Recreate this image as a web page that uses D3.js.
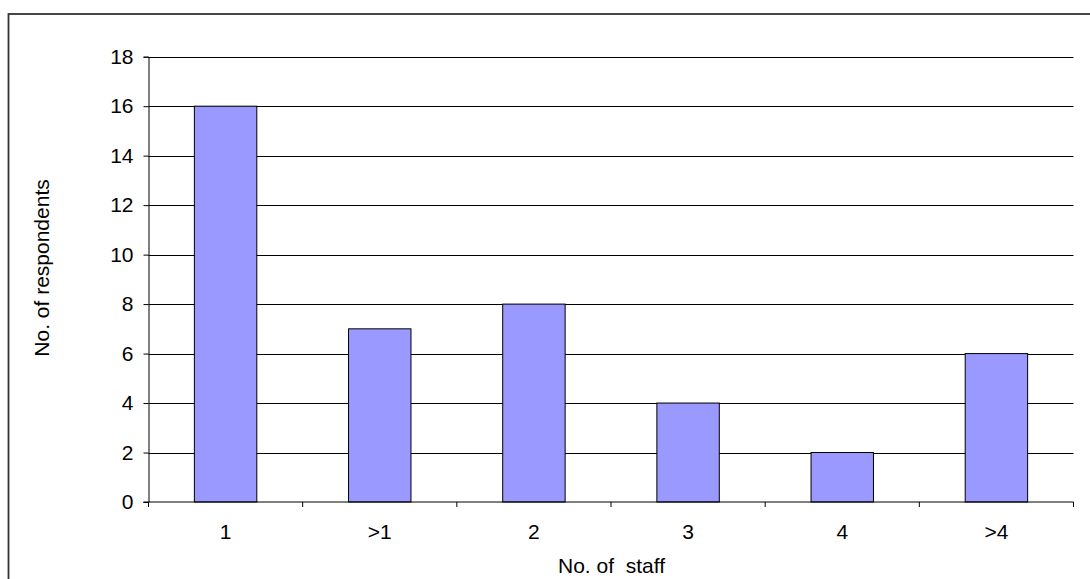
<!DOCTYPE html>
<html><head><meta charset="utf-8">
<script src="https://cdn.jsdelivr.net/npm/d3@7"></script>
<style>
html,body{margin:0;padding:0;background:#fff;}
svg text{font-family:"Liberation Sans",Arial,sans-serif;fill:#000;}
</style></head>
<body>
<svg id="chart" width="1090" height="579"></svg>
<script>
const categories = ["1", ">1", "2", "3", "4", ">4"];
const values = [16, 7, 8, 4, 2, 6];
const yTicks = [0, 2, 4, 6, 8, 10, 12, 14, 16, 18];
const xTitle = "No. of\u00a0 staff";
const yTitle = "No. of respondents";

const svg = d3.select("#chart");
const pLeft = 148.5, pRight = 1073.5, pTop = 56.7, pBottom = 502;
const fs = "21px";

// outer border
svg.append("rect").attr("x", 8.5).attr("y", 14).attr("width", 1100).attr("height", 600)
  .attr("fill", "none").attr("stroke", "#333").attr("stroke-width", 1.8);

const x = d3.scaleBand().domain(categories).range([pLeft, pRight]).paddingInner(0).paddingOuter(0);
const y = d3.scaleLinear().domain([0, 18]).range([pBottom, pTop]);
const barW = x.bandwidth() * 0.405;

// gridlines
svg.append("g").selectAll("line").data(yTicks.filter(d => d > 0)).join("line")
  .attr("x1", pLeft).attr("x2", pRight)
  .attr("y1", d => Math.round(y(d)) + 0.5).attr("y2", d => Math.round(y(d)) + 0.5)
  .attr("stroke", "#000").attr("stroke-width", 1);

// bars
svg.append("g").selectAll("rect").data(values).join("rect")
  .attr("x", (d, i) => x(categories[i]) + x.bandwidth() / 2 - barW / 2)
  .attr("width", barW)
  .attr("y", d => y(d))
  .attr("height", d => y(0) - y(d))
  .attr("fill", "#9999FF").attr("stroke", "#000").attr("stroke-width", 1);

// y axis
const yAxis = d3.axisLeft(y).tickValues(yTicks).tickSize(5).tickPadding(10).tickFormat(d3.format("d"));
const gy = svg.append("g").attr("transform", `translate(${pLeft},0)`).call(yAxis);
gy.attr("font-family", null).attr("font-size", null);
gy.selectAll("text").style("font-size", fs);
gy.select(".domain").attr("stroke", "#000");

// x axis
const gx = svg.append("g").attr("transform", `translate(0,${pBottom})`);
gx.append("line").attr("x1", pLeft - 5).attr("x2", pRight).attr("y1", 0).attr("y2", 0).attr("stroke", "#000");
const bounds = categories.map(c => x(c)).concat([pRight]);
gx.selectAll("line.t").data(bounds).join("line").attr("class", "t")
  .attr("x1", d => d).attr("x2", d => d).attr("y1", 0).attr("y2", 5).attr("stroke", "#000");
gx.selectAll("text").data(categories).join("text")
  .attr("x", d => x(d) + x.bandwidth() / 2).attr("y", 37)
  .attr("text-anchor", "middle").style("font-size", fs).text(d => d);

// titles
svg.append("text").attr("x", 611.5).attr("y", 573)
  .attr("text-anchor", "middle").style("font-size", fs).text(xTitle);
svg.append("text").attr("transform", `translate(48.5,268) rotate(-90)`)
  .attr("text-anchor", "middle").style("font-size", fs).text(yTitle);
</script>
</body></html>
